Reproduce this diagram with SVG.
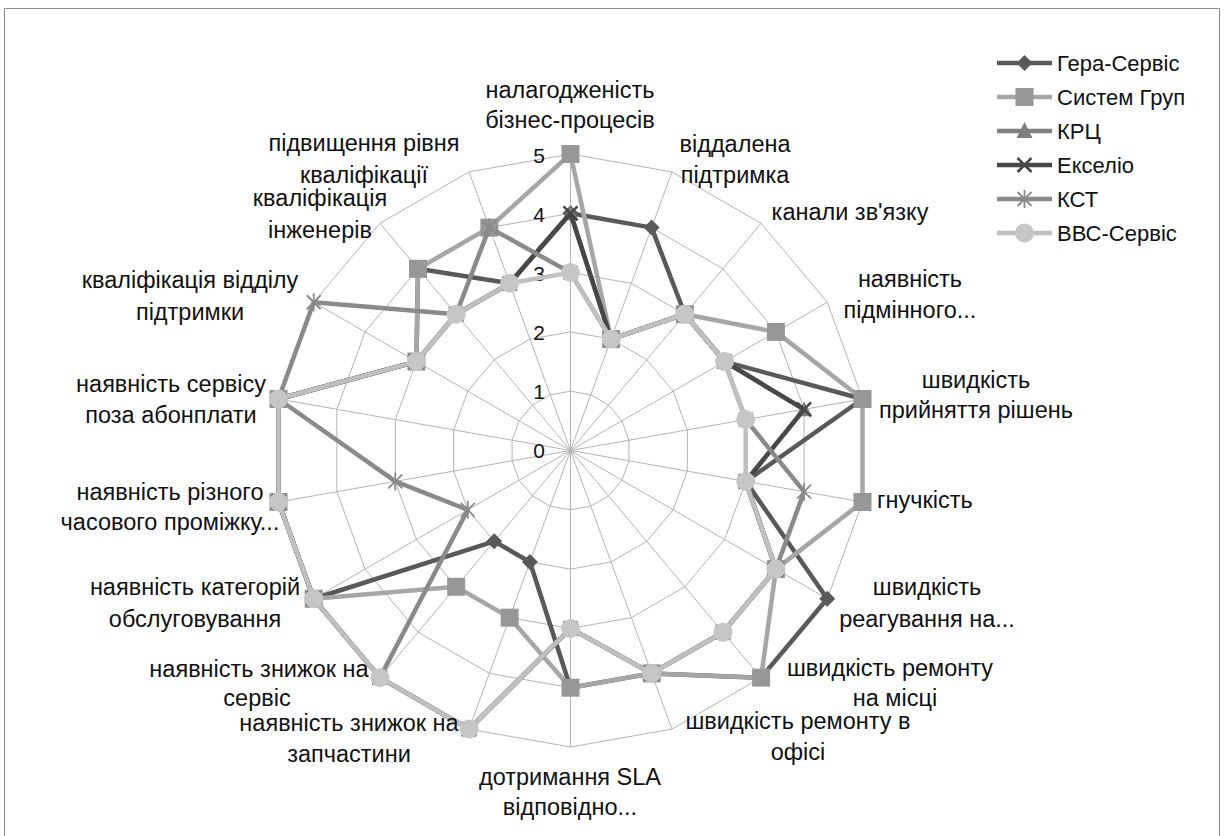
<svg xmlns="http://www.w3.org/2000/svg" width="1224" height="836" viewBox="0 0 1224 836">
<style>
text{font-family:"Liberation Sans",Arial,sans-serif;font-size:23.5px;fill:#111}
.lbl{text-anchor:middle}
.tick{font-size:21px;text-anchor:end}
.leg text{font-size:22px}
.ring{fill:none;stroke:#b4b4b4;stroke-width:1}
.spoke{fill:none;stroke:#b4b4b4;stroke-width:1}
.s{fill:none;stroke-width:4.5;stroke-linejoin:round}
.gera{stroke:#595959}
.syst{stroke:#a6a6a6}
.krc{stroke:#7f7f7f}
.exel{stroke:#474747}
.kst{stroke:#8a8a8a}
.bbc{stroke:#c0c0c0}
</style>
<defs>
<marker id="mDia" markerUnits="userSpaceOnUse" markerWidth="20" markerHeight="20" refX="10" refY="10" overflow="visible"><path d="M10,2 L18,10 L10,18 L2,10 Z" fill="#595959"/></marker>
<marker id="mSq" markerUnits="userSpaceOnUse" markerWidth="20" markerHeight="20" refX="10" refY="10" overflow="visible"><rect x="1" y="1" width="18" height="18" fill="#979797"/></marker>
<marker id="mTri" markerUnits="userSpaceOnUse" markerWidth="20" markerHeight="20" refX="10" refY="10" overflow="visible"><path d="M10,2 L18,17 L2,17 Z" fill="#7f7f7f"/></marker>
<marker id="mX" markerUnits="userSpaceOnUse" markerWidth="20" markerHeight="20" refX="10" refY="10" overflow="visible"><path d="M3,3 L17,17 M17,3 L3,17" stroke="#474747" stroke-width="2.5" fill="none"/></marker>
<marker id="mStar" markerUnits="userSpaceOnUse" markerWidth="20" markerHeight="20" refX="10" refY="10" overflow="visible"><path d="M3,3 L17,17 M17,3 L3,17 M10,1 L10,19" stroke="#8a8a8a" stroke-width="1.8" fill="none"/></marker>
<marker id="mCir" markerUnits="userSpaceOnUse" markerWidth="20" markerHeight="20" refX="10" refY="10" overflow="visible"><circle cx="10" cy="10" r="9.5" fill="#c6c6c6"/></marker>
</defs>
<rect x="4.5" y="8.5" width="1215" height="840" fill="#fff" stroke="#8c8c8c" stroke-width="1"/>
<g id="grid" transform="translate(570.5,450.5)">
<polygon class="ring" points="0,-59.3 20.28,-55.72 38.12,-45.43 51.36,-29.65 58.4,-10.3 58.4,10.3 51.36,29.65 38.12,45.43 20.28,55.72 0,59.3 -20.28,55.72 -38.12,45.43 -51.36,29.65 -58.4,10.3 -58.4,-10.3 -51.36,-29.65 -38.12,-45.43 -20.28,-55.72"/>
<polygon class="ring" points="0,-118.6 40.56,-111.45 76.23,-90.85 102.71,-59.3 116.8,-20.59 116.8,20.59 102.71,59.3 76.23,90.85 40.56,111.45 0,118.6 -40.56,111.45 -76.23,90.85 -102.71,59.3 -116.8,20.59 -116.8,-20.59 -102.71,-59.3 -76.23,-90.85 -40.56,-111.45"/>
<polygon class="ring" points="0,-177.9 60.85,-167.17 114.35,-136.28 154.07,-88.95 175.2,-30.89 175.2,30.89 154.07,88.95 114.35,136.28 60.85,167.17 0,177.9 -60.85,167.17 -114.35,136.28 -154.07,88.95 -175.2,30.89 -175.2,-30.89 -154.07,-88.95 -114.35,-136.28 -60.85,-167.17"/>
<polygon class="ring" points="0,-237.2 81.13,-222.89 152.47,-181.7 205.42,-118.6 233.6,-41.19 233.6,41.19 205.42,118.6 152.47,181.7 81.13,222.89 0,237.2 -81.13,222.89 -152.47,181.7 -205.42,118.6 -233.6,41.19 -233.6,-41.19 -205.42,-118.6 -152.47,-181.7 -81.13,-222.89"/>
<polygon class="ring" points="0,-296.5 101.41,-278.62 190.59,-227.13 256.78,-148.25 292,-51.49 292,51.49 256.78,148.25 190.59,227.13 101.41,278.62 0,296.5 -101.41,278.62 -190.59,227.13 -256.78,148.25 -292,51.49 -292,-51.49 -256.78,-148.25 -190.59,-227.13 -101.41,-278.62"/>
<path class="spoke" d="M0,0L0,-296.5M0,0L101.41,-278.62M0,0L190.59,-227.13M0,0L256.78,-148.25M0,0L292,-51.49M0,0L292,51.49M0,0L256.78,148.25M0,0L190.59,227.13M0,0L101.41,278.62M0,0L0,296.5M0,0L-101.41,278.62M0,0L-190.59,227.13M0,0L-256.78,148.25M0,0L-292,51.49M0,0L-292,-51.49M0,0L-256.78,-148.25M0,0L-190.59,-227.13M0,0L-101.41,-278.62"/>
</g>
<g id="ticks">
<text class="tick" x="545" y="458">0</text>
<text class="tick" x="545" y="399">1</text>
<text class="tick" x="545" y="340">2</text>
<text class="tick" x="545" y="281">3</text>
<text class="tick" x="545" y="222">4</text>
<text class="tick" x="545" y="163">5</text>
</g>
<g id="connectors" transform="translate(570.5,450.5)">
<polygon id="s-gera" class="s gera" marker-start="url(#mDia)" marker-mid="url(#mDia)" points="0,-237.2 81.13,-222.89 114.35,-136.28 154.07,-88.95 292,-51.49 175.2,30.89 256.78,148.25 190.59,227.13 81.13,222.89 0,237.2 -40.56,111.45 -76.23,90.85 -256.78,148.25 -292,51.49 -292,-51.49 -154.07,-88.95 -152.47,-181.7 -60.85,-167.17"/>
<polygon id="s-syst" class="s syst" marker-start="url(#mSq)" marker-mid="url(#mSq)" points="0,-296.5 40.56,-111.45 114.35,-136.28 205.42,-118.6 292,-51.49 292,51.49 205.42,118.6 190.59,227.13 81.13,222.89 0,237.2 -60.85,167.17 -114.35,136.28 -256.78,148.25 -292,51.49 -292,-51.49 -154.07,-88.95 -152.47,-181.7 -81.13,-222.89"/>
<polygon id="s-krc" class="s krc" marker-start="url(#mTri)" marker-mid="url(#mTri)" points="0,-237.2 40.56,-111.45 114.35,-136.28 154.07,-88.95 233.6,-41.19 175.2,30.89 205.42,118.6 152.47,181.7 81.13,222.89 0,177.9 -101.41,278.62 -190.59,227.13 -256.78,148.25 -292,51.49 -292,-51.49 -154.07,-88.95 -114.35,-136.28 -60.85,-167.17"/>
<polygon id="s-exel" class="s exel" marker-start="url(#mX)" marker-mid="url(#mX)" points="0,-237.2 40.56,-111.45 114.35,-136.28 154.07,-88.95 233.6,-41.19 175.2,30.89 205.42,118.6 152.47,181.7 81.13,222.89 0,177.9 -101.41,278.62 -190.59,227.13 -256.78,148.25 -292,51.49 -292,-51.49 -154.07,-88.95 -114.35,-136.28 -60.85,-167.17"/>
<polygon id="s-kst" class="s kst" marker-start="url(#mStar)" marker-mid="url(#mStar)" points="0,-177.9 40.56,-111.45 114.35,-136.28 154.07,-88.95 175.2,-30.89 233.6,41.19 205.42,118.6 152.47,181.7 81.13,222.89 0,177.9 -101.41,278.62 -190.59,227.13 -102.71,59.3 -175.2,30.89 -292,-51.49 -256.78,-148.25 -114.35,-136.28 -81.13,-222.89"/>
<polygon id="s-bbc" class="s bbc" marker-start="url(#mCir)" marker-mid="url(#mCir)" points="0,-177.9 40.56,-111.45 114.35,-136.28 154.07,-88.95 175.2,-30.89 175.2,30.89 205.42,118.6 152.47,181.7 81.13,222.89 0,177.9 -101.41,278.62 -190.59,227.13 -256.78,148.25 -292,51.49 -292,-51.49 -154.07,-88.95 -114.35,-136.28 -60.85,-167.17"/>
</g>
<g id="labels">
<g id="ax0"><text class="lbl" x="570" y="98">налагодженість</text><text class="lbl" x="570" y="128">бізнес-процесів</text></g>
<g id="ax1"><text class="lbl" x="735" y="152">віддалена</text><text class="lbl" x="735" y="183">підтримка</text></g>
<g id="ax2"><text class="lbl" x="850" y="220">канали зв'язку</text></g>
<g id="ax3"><text class="lbl" x="910" y="287">наявність</text><text class="lbl" x="910" y="318">підмінного...</text></g>
<g id="ax4"><text class="lbl" x="976" y="388">швидкість</text><text class="lbl" x="976" y="418">прийняття рішень</text></g>
<g id="ax5"><text x="877" y="508">гнучкість</text></g>
<g id="ax6"><text class="lbl" x="927" y="595">швидкість</text><text class="lbl" x="927" y="627">реагування на...</text></g>
<g id="ax7"><text class="lbl" x="890" y="676">швидкість ремонту</text><text class="lbl" x="895" y="706">на місці</text></g>
<g id="ax8"><text class="lbl" x="798" y="729">швидкість ремонту в</text><text class="lbl" x="798" y="760">офісі</text></g>
<g id="ax9"><text class="lbl" x="570" y="785">дотримання SLA</text><text class="lbl" x="570" y="815">відповідно...</text></g>
<g id="ax10"><text class="lbl" x="349" y="731">наявність знижок на</text><text class="lbl" x="349" y="762">запчастини</text></g>
<g id="ax11"><text class="lbl" x="259" y="677">наявність знижок на</text><text class="lbl" x="257" y="706">сервіс</text></g>
<g id="ax12"><text class="lbl" x="195" y="595">наявність категорій</text><text class="lbl" x="195" y="627">обслуговування</text></g>
<g id="ax13"><text class="lbl" x="170" y="500">наявність різного</text><text class="lbl" x="170" y="530">часового проміжку...</text></g>
<g id="ax14"><text class="lbl" x="171" y="392">наявність сервісу</text><text class="lbl" x="171" y="423">поза абонплати</text></g>
<g id="ax15"><text class="lbl" x="190" y="288">кваліфікація відділу</text><text class="lbl" x="190" y="320">підтримки</text></g>
<g id="ax16"><text class="lbl" x="320" y="206">кваліфікація</text><text class="lbl" x="320" y="238">інженерів</text></g>
<g id="ax17"><text class="lbl" x="364" y="151">підвищення рівня</text><text class="lbl" x="364" y="183">кваліфікації</text></g>
</g>
<g id="legend" class="leg">
<g id="leg-gera"><path d="M997,63H1052" class="s gera" stroke-width="4"/><path d="M1024.5,55 L1032.5,63 L1024.5,71 L1016.5,63Z" fill="#595959"/><text x="1057" y="71">Гера-Сервіс</text></g>
<g id="leg-syst"><path d="M997,97H1052" class="s syst" stroke-width="4"/><rect x="1015.5" y="88" width="18" height="18" fill="#979797"/><text x="1057" y="105">Систем Груп</text></g>
<g id="leg-krc"><path d="M997,131H1052" class="s krc" stroke-width="4"/><path d="M1024.5,122 L1032.5,138 L1016.5,138Z" fill="#7f7f7f"/><text x="1057" y="139">КРЦ</text></g>
<g id="leg-exel"><path d="M997,165H1052" class="s exel" stroke-width="4"/><path d="M1017.5,158 L1031.5,172 M1031.5,158 L1017.5,172" stroke="#474747" stroke-width="2.5"/><text x="1057" y="173">Екселіо</text></g>
<g id="leg-kst"><path d="M997,199H1052" class="s kst" stroke-width="4"/><path d="M1017.5,192 L1031.5,206 M1031.5,192 L1017.5,206 M1024.5,190 L1024.5,208" stroke="#8a8a8a" stroke-width="1.8"/><text x="1057" y="207">КСТ</text></g>
<g id="leg-bbc"><path d="M997,233H1052" class="s bbc" stroke-width="4"/><circle cx="1024.5" cy="233" r="9.5" fill="#c6c6c6"/><text x="1057" y="241">ВВС-Сервіс</text></g>
</g>
</svg>
